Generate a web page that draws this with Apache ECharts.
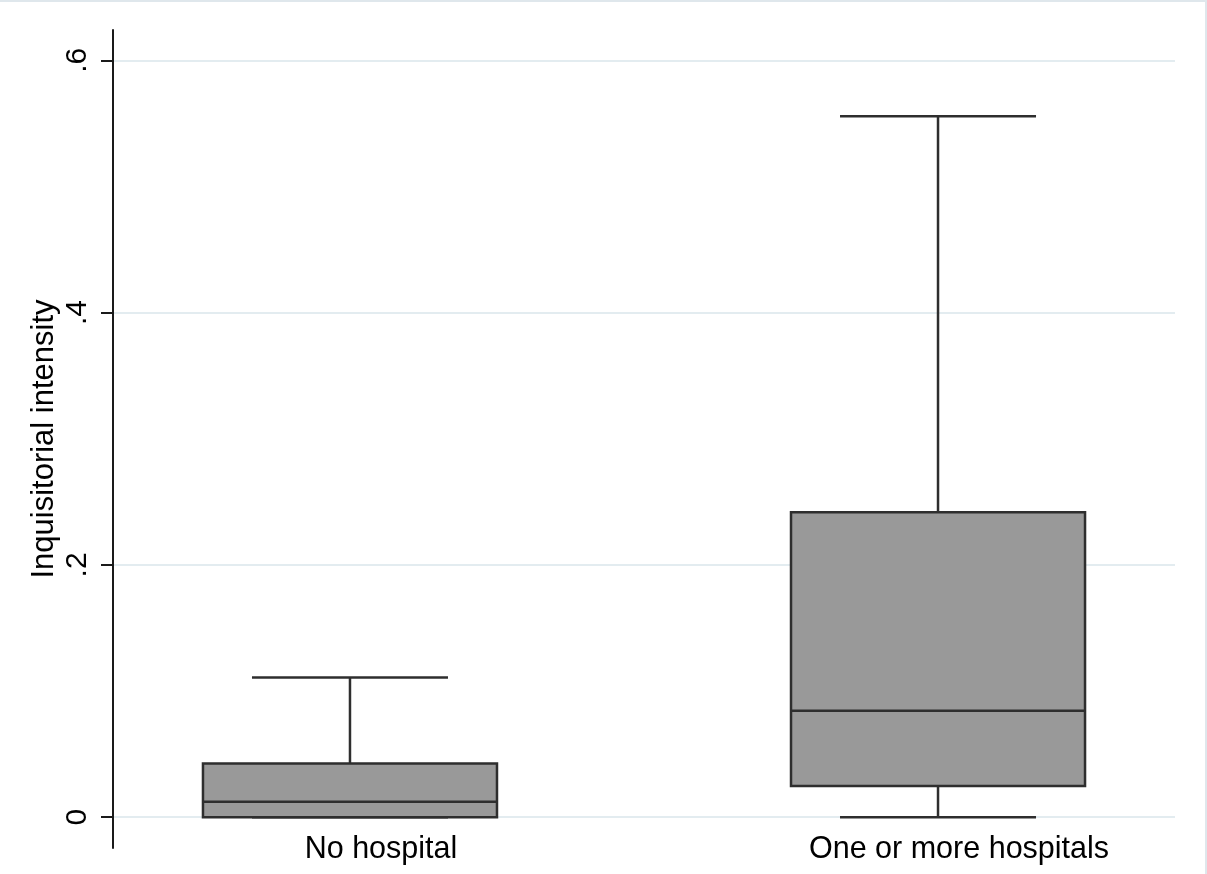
<!DOCTYPE html>
<html>
<head>
<meta charset="utf-8">
<script src="https://cdn.jsdelivr.net/npm/echarts@6/dist/echarts.min.js"></script>
<style>
  html, body { margin: 0; padding: 0; background: #fff; }
  #box1 { width: 1207px; height: 874px; }
</style>
</head>
<body>
<div id="box1"></div>
<script>
// box plot stats
var categories = ['No hospital', 'One or more hospitals'];
var positions = [1, 2];
var lowerWhisker = [0, 0];
var q1 = [0, 0.0248];
var median = [0.0122, 0.0844];
var q3 = [0.0426, 0.2418];
var upperWhisker = [0.1108, 0.5556];

var yTickValues = [0, 0.2, 0.4, 0.6];
var yTickLabels = ['0', '.2', '.4', '.6'];

var boxData = [];
for (var i = 0; i < categories.length; i++) {
    boxData.push([positions[i], lowerWhisker[i], q1[i], median[i], q3[i], upperWhisker[i]]);
}

var lineColor = '#2e2e2e';

function renderBox(params, api) {
    var x = api.value(0);
    var lo = api.coord([x, api.value(1)]);
    var b1 = api.coord([x, api.value(2)]);
    var md = api.coord([x, api.value(3)]);
    var b3 = api.coord([x, api.value(4)]);
    var hi = api.coord([x, api.value(5)]);
    var boxW = api.size([0.5, 0])[0];
    var capW = api.size([1 / 3, 0])[0];
    var ls = { stroke: lineColor, lineWidth: 2.5 };
    return {
        type: 'group',
        children: [
            { type: 'line', shape: { x1: hi[0], y1: hi[1], x2: b3[0], y2: b3[1] }, style: ls },
            { type: 'line', shape: { x1: lo[0], y1: lo[1], x2: b1[0], y2: b1[1] }, style: ls },
            { type: 'line', shape: { x1: hi[0] - capW / 2, y1: hi[1], x2: hi[0] + capW / 2, y2: hi[1] }, style: ls },
            { type: 'line', shape: { x1: lo[0] - capW / 2, y1: lo[1], x2: lo[0] + capW / 2, y2: lo[1] }, style: ls },
            {
                type: 'rect',
                shape: { x: b3[0] - boxW / 2, y: b3[1], width: boxW, height: b1[1] - b3[1] },
                style: { fill: '#999999', stroke: lineColor, lineWidth: 2.5 }
            },
            { type: 'line', shape: { x1: md[0] - boxW / 2, y1: md[1], x2: md[0] + boxW / 2, y2: md[1] }, style: ls }
        ]
    };
}

var chart = echarts.init(document.getElementById('box1'));
var option = {
    backgroundColor: '#ffffff',
    animation: false,
    textStyle: { fontFamily: 'Liberation Sans, Arial, sans-serif' },
    graphic: [{
        type: 'rect',
        shape: { x: -5, y: 1, width: 1211, height: 900 },
        style: { fill: 'none', stroke: '#dfe7ec', lineWidth: 2 },
        silent: true
    }],
    grid: {
        left: 113,
        right: 32,
        top: 30,
        bottom: 26,
        containLabel: false,
        outerBoundsMode: 'none'
    },
    xAxis: {
        type: 'value',
        min: 0.597,
        max: 2.403,
        axisLine: { show: false },
        axisTick: { show: false },
        splitLine: { show: false },
        axisLabel: {
            customValues: positions,
            margin: -14,
            fontSize: 30.5,
            color: '#000',
            formatter: function (v) {
                var k = positions.indexOf(v);
                return k >= 0 ? '{c' + k + '|' + categories[k] + '}' : '';
            },
            rich: {
                c0: { fontSize: 30.5, padding: [0, 0, 0, 62] },
                c1: { fontSize: 30.5, padding: [0, 0, 0, 42] }
            }
        }
    },
    yAxis: {
        type: 'value',
        min: -0.0244,
        max: 0.624,
        name: 'Inquisitorial intensity',
        nameLocation: 'middle',
        nameRotate: 90,
        nameGap: 53,
        nameMoveOverlap: false,
        nameTextStyle: { fontSize: 31, color: '#000' },
        axisLine: { show: true, lineStyle: { color: '#1a1a1a', width: 2 } },
        axisTick: {
            show: true,
            customValues: yTickValues,
            length: 12,
            lineStyle: { color: '#1a1a1a', width: 2 }
        },
        axisLabel: {
            customValues: yTickValues,
            rotate: 90,
            margin: 20,
            fontSize: 30,
            color: '#000',
            formatter: function (v) {
                var k = yTickValues.indexOf(v);
                return k >= 0 ? yTickLabels[k] : '';
            }
        },
        splitLine: { show: true, lineStyle: { color: '#e3ecf0', width: 2 } }
    },
    series: [{
        type: 'custom',
        renderItem: renderBox,
        encode: { x: 0, y: [1, 2, 3, 4, 5] },
        data: boxData
    }]
};
chart.setOption(option);
</script>
</body>
</html>
